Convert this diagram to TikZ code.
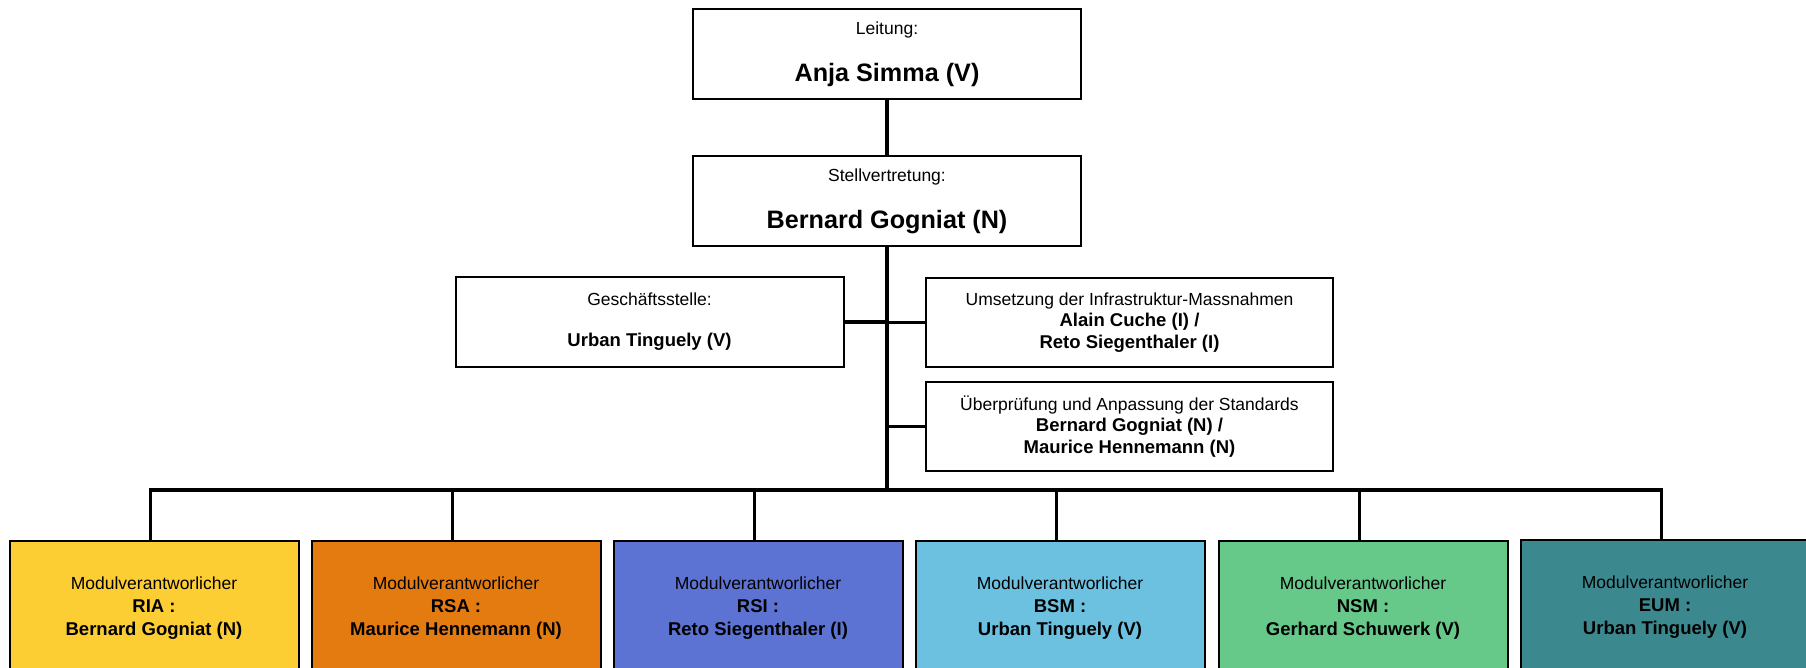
\documentclass[tikz,border=0pt]{standalone}
\usepackage{fontspec}
\setmainfont{Liberation Sans}
\definecolor{riacol}{HTML}{FDCD34}
\definecolor{rsacol}{HTML}{E47B10}
\definecolor{rsicol}{HTML}{5D73D3}
\definecolor{bsmcol}{HTML}{6CC1E0}
\definecolor{nsmcol}{HTML}{66C98A}
\definecolor{eumcol}{HTML}{3C888F}
\newcommand{\pname}[1]{{\fontsize{9.25}{11}\selectfont\bfseries #1}}
\newcommand{\bigname}[1]{{\fontsize{12.6}{15}\selectfont\bfseries #1}}

\begin{document}
\begin{tikzpicture}[x=0.5pt, y=-0.5pt,
    box/.style={draw, line width=1pt, rectangle, align=center, inner sep=0pt,
                minimum width=194pt, minimum height=45pt,
                font=\fontsize{8.75}{10.75}\selectfont},
    modul/.style={box, minimum width=144.5pt, minimum height=67pt,
                font=\fontsize{8.75}{11.5}\selectfont},
    link/.style={line width=1.6pt},
    spine/.style={line width=2.3pt}]
\clip (0,0) rectangle (1806,668);

% Leitung and Stellvertretung
\node[box] (leitung) at (887,54) {Leitung:\\[11.5pt]\bigname{Anja Simma (V)}};
\node[box] (stellv) at (887,201) {Stellvertretung:\\[11.5pt]\bigname{Bernard Gogniat (N)}};

% Stabsstellen
\node[box] (gstelle) at (649.5,322) {Gesch\"aftsstelle:\\[9.7pt]\pname{Urban Tinguely (V)}};
\node[box, minimum width=203.5pt, minimum height=44.5pt] (infra) at (1129.5,322.5)
    {Umsetzung der Infrastruktur-Massnahmen\\\pname{Alain Cuche (I) /}\\\pname{Reto Siegenthaler (I)}};
\node[box, minimum width=203.5pt, minimum height=44.5pt] (standard) at (1129.5,426.5)
    {\"Uberpr\"ufung und Anpassung der Standards\\\pname{Bernard Gogniat (N) /}\\\pname{Maurice Hennemann (N)}};

% Module
\node[modul, fill=riacol] (ria) at (154,608) {Modulverantworlicher\\\pname{RIA :}\\\pname{Bernard Gogniat (N)}};
\node[modul, fill=rsacol] (rsa) at (456,608) {Modulverantworlicher\\\pname{RSA :}\\\pname{Maurice Hennemann (N)}};
\node[modul, fill=rsicol] (rsi) at (758,608) {Modulverantworlicher\\\pname{RSI :}\\\pname{Reto Siegenthaler (I)}};
\node[modul, fill=bsmcol] (bsm) at (1060,608) {Modulverantworlicher\\\pname{BSM :}\\\pname{Urban Tinguely (V)}};
\node[modul, fill=nsmcol] (nsm) at (1363,608) {Modulverantworlicher\\\pname{NSM :}\\\pname{Gerhard Schuwerk (V)}};
\node[modul, fill=eumcol] (eum) at (1665,607) {Modulverantworlicher\\\pname{EUM :}\\\pname{Urban Tinguely (V)}};

% Verbindungen
\coordinate (bus) at (887,490);
\draw[spine] (leitung.south) -- (stellv.north);
\draw[spine] (stellv.south) -- (bus);
\draw[link] (gstelle.east) -- (gstelle.east -| bus);
\draw[link] (infra.west) -- (infra.west -| bus);
\draw[link] (standard.west) -- (standard.west -| bus);
\foreach \m in {ria,rsa,rsi,bsm,nsm,eum}
    \draw[link] (bus) -| ([xshift=-1.6pt]\m.north);
\end{tikzpicture}
\end{document}
